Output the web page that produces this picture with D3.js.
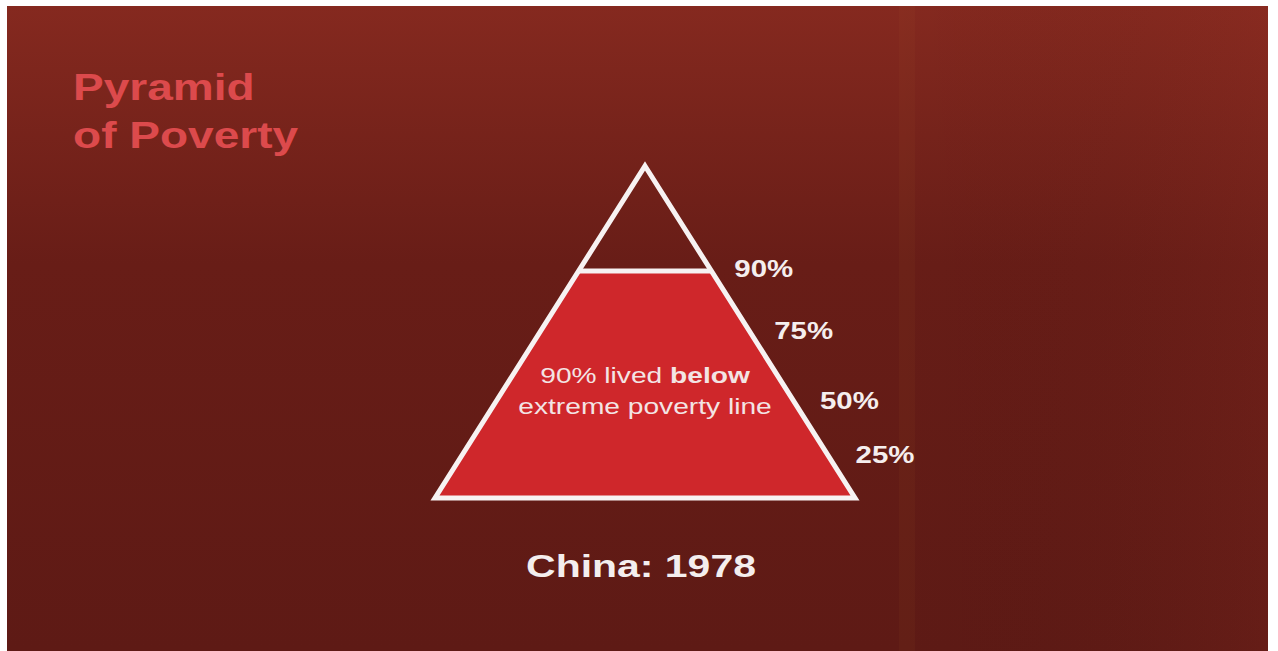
<!DOCTYPE html>
<html>
<head>
<meta charset="utf-8">
<script src="https://cdn.jsdelivr.net/npm/d3@7/dist/d3.min.js"></script>
<style>
  html, body { margin: 0; padding: 0; background: #ffffff; }
  svg { display: block; }
  text { font-family: "Liberation Sans", Arial, Helvetica, sans-serif; }
</style>
</head>
<body>
<svg id="chart" width="1278" height="651"></svg>
<script>
// ---- data ----
const titleLines = ["Pyramid", "of Poverty"];
const levelTicks = [90, 75, 50, 25];          // % labels along the right edge
const shareBelowLine = 90;                    // % living below extreme poverty line
const innerLine1 = [{t: "90% lived ", bold: false}, {t: "below", bold: true}];
const innerLine2 = "extreme poverty line";
const caption = "China: 1978";

// ---- layout ----
const W = 1278, H = 651;
const svg = d3.select("#chart");
const SX = 1.28; // horizontal stretch of the slide
const apexX = 645, apexY = 166, baseY = 498, halfBase = 210;

// background
const defs = svg.append("defs");
const grad = defs.append("linearGradient").attr("id", "bg").attr("x1", 0).attr("y1", 0).attr("x2", 0).attr("y2", 1);
grad.append("stop").attr("offset", "0%").attr("stop-color", "#85291f");
grad.append("stop").attr("offset", "40%").attr("stop-color", "#681d17");
grad.append("stop").attr("offset", "100%").attr("stop-color", "#5e1a15");
const gradH = defs.append("linearGradient").attr("id", "bgh").attr("x1", 0).attr("y1", 0).attr("x2", 1).attr("y2", 0);
gradH.append("stop").attr("offset", "0%").attr("stop-color", "#000").attr("stop-opacity", 0.0);
gradH.append("stop").attr("offset", "70%").attr("stop-color", "#000").attr("stop-opacity", 0.0);
gradH.append("stop").attr("offset", "100%").attr("stop-color", "#a8382a").attr("stop-opacity", 0.10);

svg.append("rect").attr("x", 0).attr("y", 0).attr("width", W).attr("height", H).attr("fill", "#ffffff");
svg.append("rect").attr("x", 7).attr("y", 6).attr("width", 1261).attr("height", H - 6).attr("fill", "url(#bg)");
svg.append("rect").attr("x", 7).attr("y", 6).attr("width", 1261).attr("height", H - 6).attr("fill", "url(#bgh)");
// faint vertical scan streak
svg.append("rect").attr("x", 899).attr("y", 6).attr("width", 16).attr("height", H - 6)
  .attr("fill", "#b8742e").attr("opacity", 0.06);

// scales: area-proportional pyramid (share of area above a level ~ depth^2)
const depth = d3.scaleSqrt().domain([0, 100]).range([apexY, baseY]);
const yOf = p => depth(100 - p);
const halfW = d3.scaleLinear().domain([apexY, baseY]).range([0, halfBase]);

// filled part (below the poverty line)
const yLine = yOf(shareBelowLine);
const trap = [
  [apexX - halfW(yLine), yLine], [apexX + halfW(yLine), yLine],
  [apexX + halfW(baseY), baseY], [apexX - halfW(baseY), baseY]
];
svg.append("path").attr("d", d3.line()(trap) + "Z").attr("fill", "#cf272b");

// outline
const tri = [[apexX, apexY], [apexX + halfW(baseY), baseY], [apexX - halfW(baseY), baseY]];
svg.append("path").attr("d", d3.line()(tri) + "Z")
  .attr("fill", "none").attr("stroke", "#f7f2f2").attr("stroke-width", 5).attr("stroke-linejoin", "miter");
svg.append("line")
  .attr("x1", apexX - halfW(yLine)).attr("x2", apexX + halfW(yLine))
  .attr("y1", yLine).attr("y2", yLine)
  .attr("stroke", "#f7f2f2").attr("stroke-width", 5);

// helper for stretched text
function stretchedText(x, y, anchor) {
  return svg.append("g").attr("transform", `translate(${x},${y}) scale(${SX},1)`)
    .append("text").attr("x", 0).attr("y", 0).attr("text-anchor", anchor);
}

// percent labels
levelTicks.forEach(p => {
  const y = yOf(p);
  const dy = 5 + (100 - p) * 0.06;
  const dx = 22 + (100 - p) * 0.09;
  stretchedText(apexX + halfW(y) + dx, y + dy, "start")
    .attr("font-size", 23).attr("font-weight", "bold").attr("fill", "#f5eeee")
    .text(p + "%");
});

// inner text
const t1 = stretchedText(apexX, 383, "middle").attr("font-size", 22).attr("fill", "#f3e4e4");
t1.selectAll("tspan").data(innerLine1).join("tspan")
  .attr("font-weight", d => d.bold ? "bold" : "normal").text(d => d.t);
stretchedText(apexX, 414, "middle").attr("font-size", 22).attr("fill", "#f3e4e4").text(innerLine2);

// caption
stretchedText(641, 577, "middle").attr("font-size", 32).attr("font-weight", "bold").attr("fill", "#f4eeee").text(caption);

// title
titleLines.forEach((s, i) => {
  stretchedText(73, 100 + i * 48, "start")
    .attr("font-size", 36).attr("font-weight", "bold").attr("fill", "#dc4a4c").text(s);
});
</script>
</body>
</html>
